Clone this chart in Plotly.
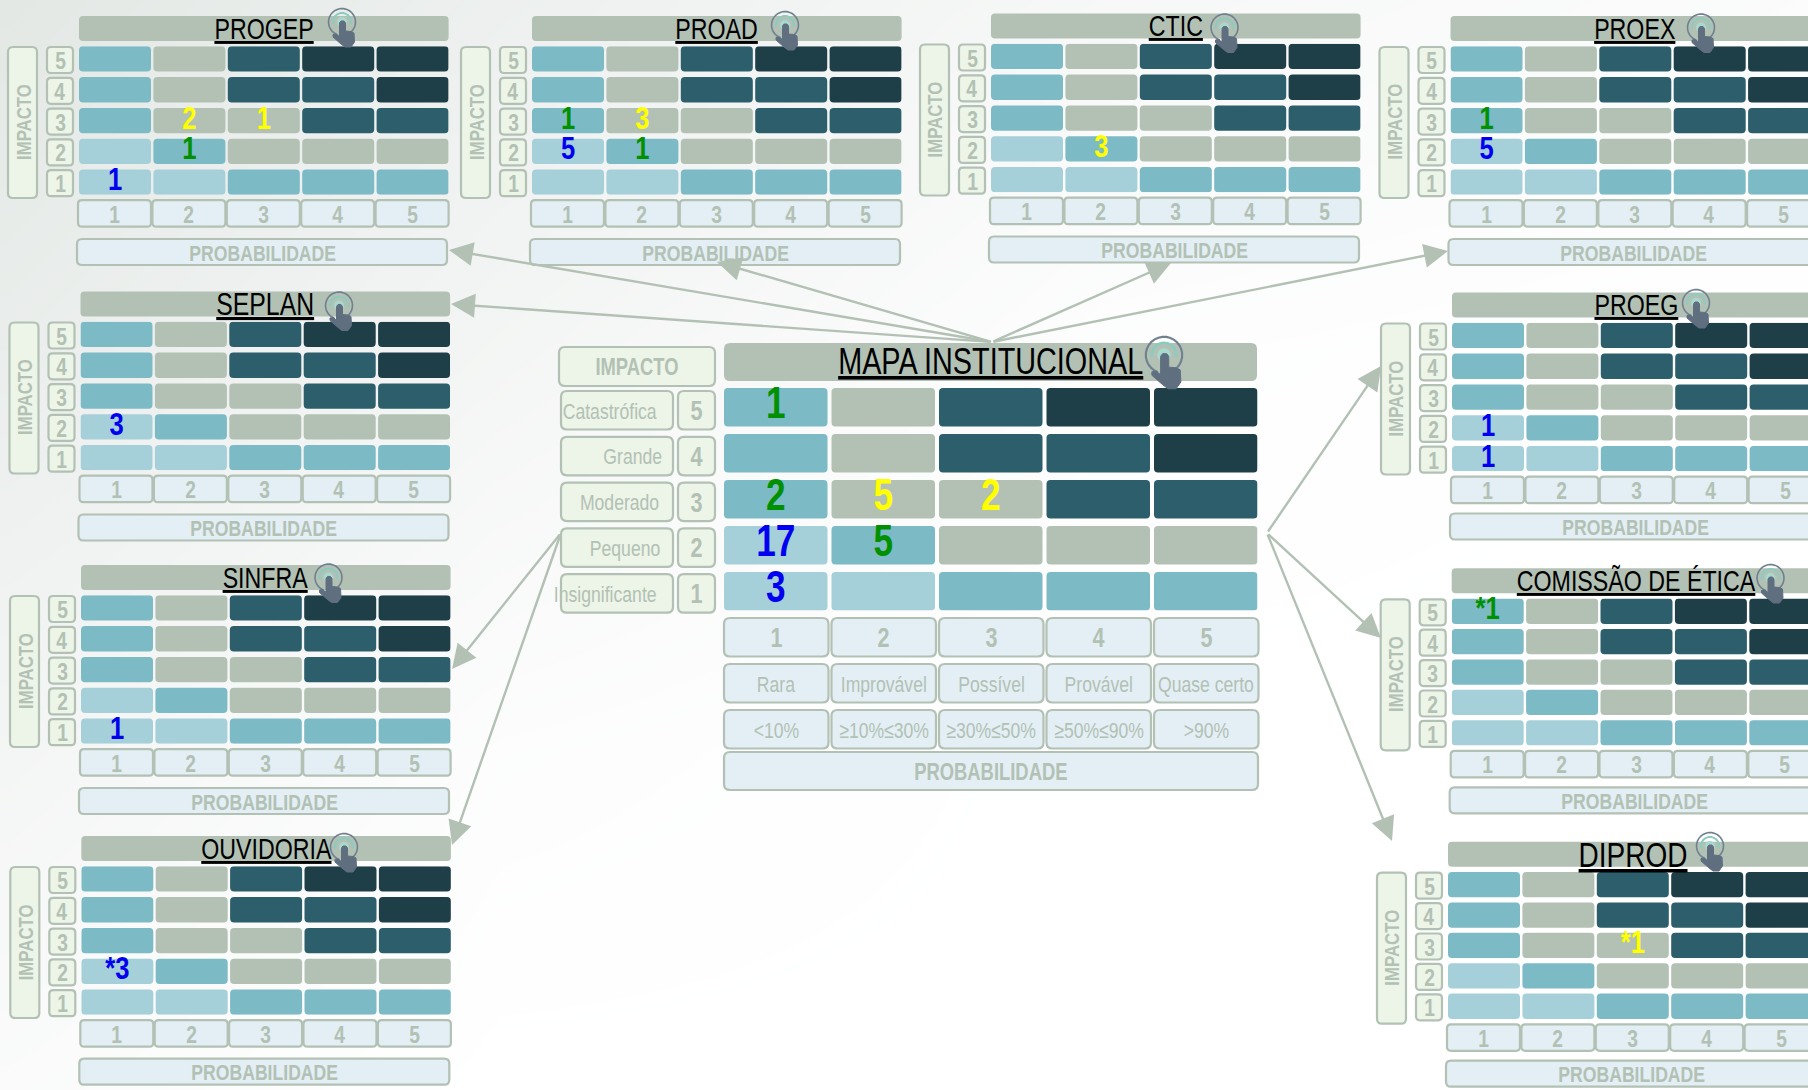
import math
import plotly.graph_objects as go

W, H = 1808, 1090
FONT = "Liberation Sans, Arial"
SQUEEZE = 0.8

# ---------- data ----------
COLOURS = {"L": "#A6D0D9", "M": "#7CBAC6", "S": "#B2C1B4", "D": "#2C5F6B", "X": "#1F3F48"}
IMPACT_ROWS = [5, 4, 3, 2, 1]
PROB_COLS = [1, 2, 3, 4, 5]
RISK_LEVELS = [
    ["M", "S", "D", "X", "X"],
    ["M", "S", "D", "D", "X"],
    ["M", "S", "S", "D", "D"],
    ["L", "M", "S", "S", "S"],
    ["L", "L", "M", "M", "M"],
]
G, Y, B = "#009000", "#FFFF00", "#0000F0"

PANEL_NAMES = ["PROGEP", "PROAD", "CTIC", "PROEX", "SEPLAN", "PROEG", "SINFRA",
               "COMISSÃO DE ÉTICA", "OUVIDORIA", "DIPROD"]
PANEL_COUNTS = [
    [(2, 3, "2", Y), (3, 3, "1", Y), (2, 2, "1", G), (1, 1, "1", B)],
    [(1, 3, "1", G), (2, 3, "3", Y), (1, 2, "5", B), (2, 2, "1", G)],
    [(2, 2, "3", Y)],
    [(1, 3, "1", G), (1, 2, "5", B)],
    [(1, 2, "3", B)],
    [(1, 2, "1", B), (1, 1, "1", B)],
    [(1, 1, "1", B)],
    [(1, 5, "*1", G)],
    [(1, 2, "*3", B)],
    [(3, 3, "*1", Y)],
]
CENTRAL_COUNTS = [(1, 5, "1", G), (1, 3, "2", G), (2, 3, "5", Y), (3, 3, "2", Y),
                  (1, 2, "17", B), (2, 2, "5", G), (1, 1, "3", B)]
IMPACT_NAMES = ["Catastrófica", "Grande", "Moderado", "Pequeno", "Insignificante"]
PROB_NAMES = ["Rara", "Improvável", "Possível", "Provável", "Quase certo"]
PROB_RANGES = ["<10%", "≥10%≤30%", "≥30%≤50%", "≥50%≤90%", ">90%"]

# background brightness
BG_X = [8, 500, 1100, 1808]
BG_Y = [0, 350, 750, 1090]
BG_Z = [[0.00, 0.35, 0.70, 0.85],
        [0.25, 0.60, 0.92, 1.00],
        [0.60, 0.90, 1.00, 1.00],
        [0.82, 1.00, 1.00, 1.00]]

# ---------- layout of the page ----------
# origin x, origin y, title size, ring centre x, ring centre y, row pitch, prob offset
PANEL_POS = [
    (79, 16, 29, 342, 22, 30.8, 223),
    (532, 16, 29, 785, 25, 30.8, 223),
    (991, 13.5, 29, 1224.5, 27.5, 30.8, 223),
    (1450.5, 16, 29, 1701, 27.5, 30.8, 223),
    (80.5, 291.5, 31, 339, 305.5, 30.8, 223),
    (1452, 292.5, 29, 1696, 303, 30.8, 221),
    (81, 565, 29, 328.5, 577.5, 30.8, 223),
    (1451.7, 568.3, 29, 1770.5, 578, 30.4, 219),
    (81.3, 836, 29, 344, 847, 30.8, 222.7),
    (1448, 841.7, 35, 1710, 846, 30.4, 219),
]
ARROWS = [
    ((992, 342), (449, 250)), ((992, 342), (717, 262)), ((992, 342), (1171, 263)),
    ((992, 342), (1448, 251)), ((992, 342), (451, 304)),
    ((1267, 533), (1381, 366)), ((1267, 533), (1381, 638)), ((1267, 533), (1392, 841)),
    ((561, 533), (452, 669)), ((561, 533), (452, 845)),
]
SAGE = "#B2C1B4"
GREENBOX = "#EDF4E8"
BLUEBOX = "#E3EFF4"

shapes, annotations, traces, axes = [], [], [], {}


def rr(x0, y0, x1, y1, r=4):
    return (f"M{x0+r},{y0} L{x1-r},{y0} Q{x1},{y0} {x1},{y0+r} L{x1},{y1-r} Q{x1},{y1} {x1-r},{y1} "
            f"L{x0+r},{y1} Q{x0},{y1} {x0},{y1-r} L{x0},{y0+r} Q{x0},{y0} {x0+r},{y0} Z")


def box(x0, y0, x1, y1, fill, line=SAGE, lw=2.2, r=5):
    shapes.append(dict(type="path", path=rr(x0, y0, x1, y1, r), xref="x", yref="y", layer="above",
                       fillcolor=fill, line=dict(color=line, width=lw)))


def label(x, y, text, size, color=SAGE, bold=False, angle=0, anchor="center", under=False):
    font = dict(family=FONT, size=size, color=color)
    if bold:
        font["weight"] = "bold"
    if under:
        font["lineposition"] = "under"
    annotations.append(dict(x=x, y=y, xref="x", yref="y", text=text, showarrow=False, font=font,
                            textangle=angle, xanchor=anchor, yanchor="middle"))


def arc(cx, cy, r, a0, a1, n=24):
    pts = []
    for i in range(n + 1):
        a = math.radians(a0 + (a1 - a0) * i / n)
        pts.append(f"{cx + r * math.cos(a):.2f},{cy + r * math.sin(a):.2f}")
    return "M" + " L".join(pts)


def hand(cx, cy, s=1.0):
    def line_arc(r, a0, a1, color, w):
        shapes.append(dict(type="path", path=arc(cx, cy, r * s, a0, a1), xref="x", yref="y", layer="above",
                           line=dict(color=color, width=w * s)))
    line_arc(13.5, 110, 420, "#70808F", 1.6)
    line_arc(9, 170, 370, "#8CCBBF", 2)
    shapes.append(dict(type="circle", x0=cx - 5 * s, x1=cx + 5 * s, y0=cy - 5 * s, y1=cy + 5 * s, xref="x", yref="y",
                       layer="above", fillcolor="#A9D8CE", line=dict(width=0)))
    pts = [(-2.5, 1), (-1, -1), (2, -1), (3.5, 1), (3.5, 9), (9, 9.5), (12, 11), (12.5, 20), (9, 25), (3, 25),
           (-1, 22), (-9, 15), (-9, 12.5), (-6, 12), (-2.5, 14.5)]
    path = "M" + " L".join(f"{cx + a * s:.2f},{cy + b * s:.2f}" for a, b in pts) + " Z"
    shapes.append(dict(type="path", path=path, xref="x", yref="y", layer="above", fillcolor="#606F80",
                       line=dict(color="#606F80", width=1)))


def matrix(idx, left, top, px, cw, py, ch, counts, size):
    """Cells and counts of one risk matrix on its own pair of axes."""
    ax = str(idx)
    right = min(left + 4 * px + cw, W)
    bottom = top + 4 * py + ch
    u0 = 1 - (cw / 2) / px
    axes["xaxis" + ax] = dict(domain=[left / W, right / W], range=[u0, u0 + (right - left) / px],
                              visible=False, fixedrange=True, anchor="y" + ax)
    v0 = 1 - (ch / 2) / py
    axes["yaxis" + ax] = dict(domain=[1 - bottom / H, 1 - top / H], range=[v0, v0 + (bottom - top) / py],
                              visible=False, fixedrange=True, anchor="x" + ax)
    xs, ys, cols = [], [], []
    for r, levels in zip(IMPACT_ROWS, RISK_LEVELS):
        for c, lv in zip(PROB_COLS, levels):
            xs.append(c)
            ys.append(r)
            cols.append(COLOURS[lv])
    wid = cw / px
    traces.append(go.Bar(orientation="h", x=[wid] * len(xs), base=[c - wid / 2 for c in xs], y=ys,
                         width=ch / py, marker=dict(color=cols, cornerradius=4, line=dict(width=0)),
                         xaxis="x" + ax, yaxis="y" + ax, hoverinfo="skip", showlegend=False))
    traces.append(go.Scatter(x=[t[0] for t in counts], y=[t[1] for t in counts], text=[t[2] for t in counts],
                             mode="text", textposition="middle center", cliponaxis=False,
                             textfont=dict(family=FONT, size=size, color=[t[3] for t in counts], weight="bold"),
                             xaxis="x" + ax, yaxis="y" + ax, hoverinfo="skip", showlegend=False))


traces.append(go.Heatmap(x=BG_X, y=BG_Y, z=BG_Z, zsmooth="best", showscale=False, hoverinfo="skip",
                         zmin=0, zmax=1, colorscale=[[0, "#E3E8E5"], [1, "#FFFFFF"]]))

# ---------- small panels ----------
for i, (name, counts, pos) in enumerate(zip(PANEL_NAMES, PANEL_COUNTS, PANEL_POS)):
    ox, oy, tsize, rx, ry, py, pdy = pos
    px, cw, ch = 74.4, 72, 25.3
    box(ox, oy, ox + 4 * px + cw, oy + 25, SAGE, line=SAGE, lw=0, r=4)
    label(ox + (4 * px + cw) / 2, oy + 12.5, name, tsize, color="#000000", under=True)
    box(ox - 71, oy + 31, ox - 42, oy + 182, GREENBOX)
    label(ox - 56.5, oy + 106, "IMPACTO", 21, angle=-90, bold=True)
    for k, r in enumerate(IMPACT_ROWS):
        y0 = oy + 31 + k * py
        box(ox - 32, y0, ox - 6, y0 + 26, GREENBOX, r=4)
        label(ox - 19, y0 + 13.5, str(r), 24, bold=True)
    ty = oy + 4 * py + 61
    for c in PROB_COLS:
        x0 = ox - 1 + (c - 1) * px
        box(x0, ty, x0 + 73, ty + 26.5, BLUEBOX, r=4)
        label(x0 + 36.5, ty + 14, str(c), 24, bold=True)
    box(ox - 2, oy + pdy, ox + 368, oy + pdy + 26, BLUEBOX)
    label(ox + 183, oy + pdy + 14, "PROBABILIDADE", 22, bold=True)
    matrix(i + 2, ox, oy + 30.3, px, cw, py, ch, counts, 32)

# ---------- central panel ----------
CX, CY = 724, 343
cpx, ccw, cpy, cch = 107.5, 103.5, 46, 38.5
box(CX, CY, CX + 533, CY + 38, SAGE, lw=0, r=6)
label(CX + 266.5, CY + 18, "MAPA INSTITUCIONAL", 36, color="#000000", under=True)
box(559, 347, 715, 386, GREENBOX, r=6)
label(637, 367, "IMPACTO", 23, bold=True)
for k, (r, nm) in enumerate(zip(IMPACT_ROWS, IMPACT_NAMES)):
    y0 = 391 + k * 45.8
    box(561, y0, 673, y0 + 38.5, GREENBOX, r=6)
    box(678, y0, 715, y0 + 38.5, GREENBOX, r=6)
    label(671, y0 + 20, nm, 22, anchor="right")
    label(696.5, y0 + 20, str(r), 27, bold=True)
for c, nm, rg in zip(PROB_COLS, PROB_NAMES, PROB_RANGES):
    x0 = CX + (c - 1) * cpx
    for y0, txt, sz, bd in [(618, str(c), 27, True), (664, nm, 22, False), (710, rg, 22, False)]:
        box(x0, y0, x0 + 104.5, y0 + 38.5, BLUEBOX, r=6)
        label(x0 + 52, y0 + 20, txt, sz, bold=bd)
box(CX, 752, CX + 534, 790, BLUEBOX, r=6)
label(CX + 267, 772, "PROBABILIDADE", 23, bold=True)
matrix(12, CX, 388, cpx, ccw, cpy, cch, CENTRAL_COUNTS, 44)

# ---------- hands, on top of everything ----------
for pos in PANEL_POS:
    hand(pos[3], pos[4])
hand(1164, 355, 1.35)

# ---------- arrows ----------
for (x0, y0), (x1, y1) in ARROWS:
    annotations.append(dict(x=x1, y=y1, ax=x0, ay=y0, xref="x", yref="y", axref="x", ayref="y", text="",
                            showarrow=True, arrowhead=2, arrowsize=2, arrowwidth=2.4, arrowcolor=SAGE))

fig = go.Figure(traces)
fig.update_layout(
    width=W, height=H, margin=dict(l=0, r=0, t=0, b=0), showlegend=False, barmode="overlay",
    paper_bgcolor="#FFFFFF", plot_bgcolor="rgba(0,0,0,0)",
    xaxis=dict(domain=[0, 1], range=[0, W], visible=False, fixedrange=True),
    yaxis=dict(domain=[0, 1], range=[H, 0], visible=False, fixedrange=True),
    shapes=shapes, annotations=annotations, **axes,
)
POST = """
document.body.style.margin = '0';
document.body.style.overflow = 'hidden';
document.querySelectorAll('svg text').forEach(function (t) {
  var n = t.getComputedTextLength();
  if (n > 0) { t.setAttribute('lengthAdjust', 'spacingAndGlyphs'); t.setAttribute('textLength', n * %s); }
});
""" % SQUEEZE
fig.write_html("out.html", config=dict(displayModeBar=False), post_script=POST)
